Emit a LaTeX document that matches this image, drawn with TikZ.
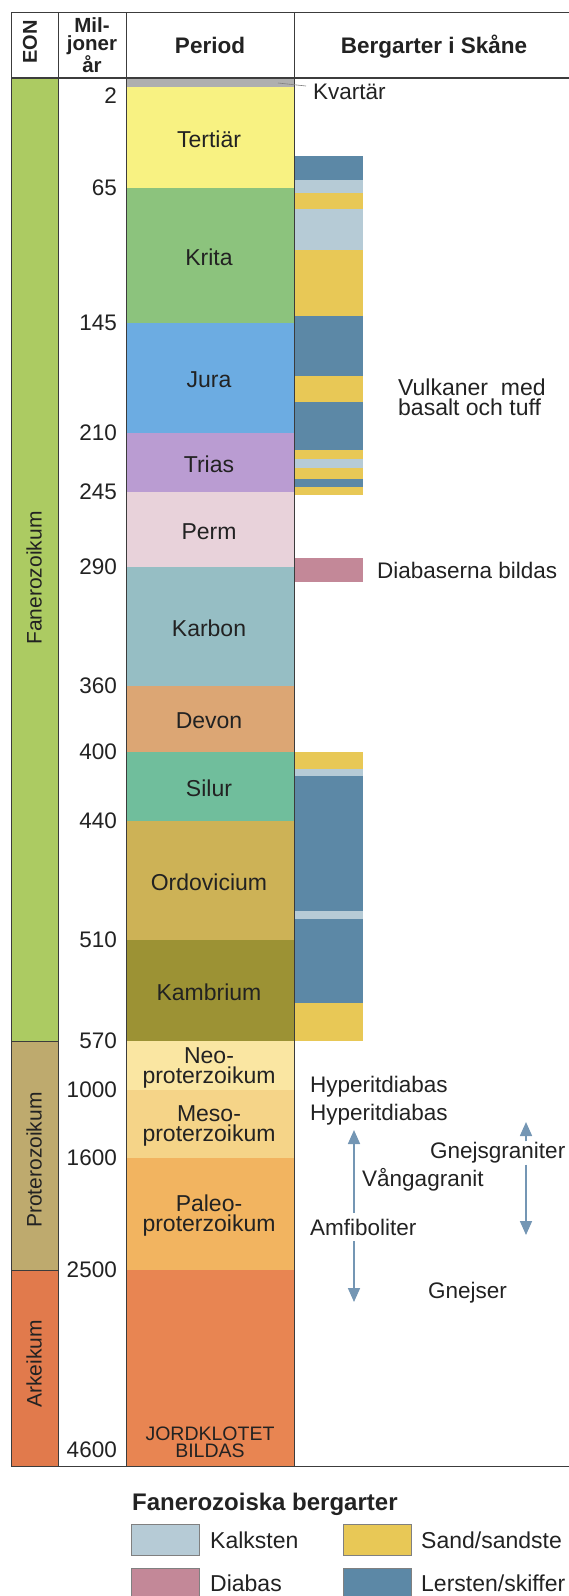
\documentclass[tikz,border=0pt]{standalone}
\usepackage{fontspec}
\setmainfont{Liberation Sans}
\usetikzlibrary{arrows.meta}
% eon colours
\definecolor{fanero}{RGB}{172,203,98}
\definecolor{protero}{RGB}{190,170,110}
\definecolor{arkeikum}{RGB}{225,122,76}
% period colours
\definecolor{kvartar}{RGB}{175,175,175}
\definecolor{tertiar}{RGB}{248,242,130}
\definecolor{krita}{RGB}{140,195,125}
\definecolor{jura}{RGB}{108,172,226}
\definecolor{trias}{RGB}{186,156,210}
\definecolor{perm}{RGB}{232,210,218}
\definecolor{karbon}{RGB}{150,190,196}
\definecolor{devon}{RGB}{220,166,116}
\definecolor{silur}{RGB}{112,190,156}
\definecolor{ordovicium}{RGB}{205,178,86}
\definecolor{kambrium}{RGB}{156,146,52}
\definecolor{neo}{RGB}{250,230,162}
\definecolor{meso}{RGB}{245,212,136}
\definecolor{paleo}{RGB}{242,180,96}
\definecolor{arkper}{RGB}{232,133,82}
% rock colours
\definecolor{lersten}{RGB}{92,136,166}
\definecolor{kalk}{RGB}{182,203,214}
\definecolor{sand}{RGB}{232,200,86}
\definecolor{diabas}{RGB}{195,136,152}
\definecolor{arrowblue}{RGB}{116,150,180}
\definecolor{inkgray}{RGB}{34,34,34}
\definecolor{rulegray}{RGB}{60,60,60}

\tikzset{
  txt/.style={font=\fontsize{22.5}{24}\selectfont, text=inkgray, inner sep=0pt},
  head/.style={txt, font=\fontsize{22.5}{24}\selectfont\bfseries},
  num/.style={txt, anchor=east},
  rule/.style={draw=rulegray, line width=0.8pt},
  rockarrow/.style={draw=arrowblue, line width=1.7pt, -{Triangle[width=12pt,length=14pt]}},
  legbox/.style={draw=gray, line width=0.8pt},
}

\begin{document}
\begin{tikzpicture}[x=1pt, y=-1pt]
\useasboundingbox (0,0) rectangle (569,1596);

% Header
\draw[rule] (11,12) -- (569,12);
\foreach \x in {11,58,126,294}
  \draw[rule] (\x,12) -- (\x,78);
\node[head, rotate=90, font=\fontsize{20}{22}\selectfont\bfseries] (eonhead) at (30,42) {EON};
\node[head, align=center, font=\fontsize{20.5}{18.5}\selectfont\bfseries] (milhead) at (92,45) {Mil-\\joner\\år};
\node[head, anchor=base] (perhead) at (210,53) {Period};
\node[head, anchor=base] (berghead) at (434,53) {Bergarter i Skåne};

% Eons
\fill[fanero] (11,78) rectangle (58,1041);
\fill[protero] (11,1041) rectangle (58,1270);
\fill[arkeikum] (11,1270) rectangle (58,1466);
\draw[rule] (11,1041) -- (58,1041);
\draw[rule] (11,1270) -- (58,1270);
\node[txt, rotate=90, font=\fontsize{21}{22}\selectfont] (fanerozoikum) at (34,578) {Fanerozoikum};
\node[txt, rotate=90, font=\fontsize{21}{22}\selectfont] (proterozoikum) at (34,1160) {Proterozoikum};
\node[txt, rotate=90, font=\fontsize{21}{22}\selectfont] (arkeikum) at (34,1364) {Arkeikum};

% Periods
\fill[kvartar] (126,78) rectangle (294,87);
\draw[rule] (126,87) -- (294,87);
\foreach \ytop/\ybot/\col/\lbl in {87/188/tertiar/Tertiär, 188/323/krita/Krita,
    323/433/jura/Jura, 433/492/trias/Trias, 492/567/perm/Perm, 567/686/karbon/Karbon,
    686/752/devon/Devon, 752/821/silur/Silur, 821/940/ordovicium/Ordovicium,
    940/1041/kambrium/Kambrium, 1041/1090/neo/{Neo-\\proterzoikum},
    1090/1158/meso/{Meso-\\proterzoikum}, 1158/1270/paleo/{Paleo-\\proterzoikum}}
{
  \fill[\col] (126,\ytop) rectangle (294,\ybot);
  \draw[rule] (126,\ybot) -- (294,\ybot);
  \node[txt, align=center, font=\fontsize{23}{20}\selectfont] (p-\col) at (209,{(\ytop+\ybot)/2+2}) {\lbl};
}
\fill[arkper] (126,1270) rectangle (294,1466);
\node[txt, align=center, font=\fontsize{19.5}{17}\selectfont] (jordklotet) at (210,1442) {JORDKLOTET\\BILDAS};

% Column rules
\foreach \x in {11,58,126,294}
  \draw[rule] (\x,78) -- (\x,1466);
\draw[rule] (11,1466) -- (569,1466);
\draw[draw=rulegray, line width=1.6pt] (11,78) -- (569,78);

% Millions of years
\node[num] (n2) at (117,96) {2};
\foreach \y/\v in {188/65, 323/145, 433/210, 492/245, 567/290, 686/360, 752/400,
    821/440, 940/510, 1041/570, 1090/1000, 1158/1600, 1270/2500, 1450/4600}
  \node[num] (n\v) at (117,\y) {\v};

% Rocks in Skane
\foreach \ytop/\ybot/\col in {156/180/lersten, 180/193/kalk, 193/209/sand, 209/250/kalk,
    250/316/sand, 316/376/lersten, 376/402/sand, 402/450/lersten, 450/459/sand,
    459/468/kalk, 468/479/sand, 479/487/lersten, 487/495/sand, 752/769/sand,
    769/776/kalk, 776/911/lersten, 911/919/kalk, 919/1003/lersten, 1003/1041/sand}
  \fill[\col] (295,\ytop) rectangle (363,\ybot);
\fill[diabas] (295,558) rectangle (363,582);

% Annotations
\node[txt, anchor=west] (kvartartxt) at (313,92) {Kvartär};
\coordinate (kvband) at (278,83);
\coordinate (kvend) at (306,86);
\draw[gray, line width=0.6pt] (kvband) -- (kvend);
\node[txt, anchor=west, align=left, font=\fontsize{23}{20}\selectfont] (vulkaner) at (398,397) {Vulkaner\ \ med\\basalt och tuff};
\node[txt, anchor=west] (diabaserna) at (377,570) {Diabaserna bildas};
\node[txt, anchor=west] (hyper1) at (310,1087) {Hyperitdiabas};
\node[txt, anchor=west] (hyper2) at (310,1115) {Hyperitdiabas};
\node[txt, anchor=west] (vanga) at (362,1180) {Vångagranit};
\node[txt, anchor=west, inner ysep=6pt] (amfib) at (310,1227) {Amfiboliter};
\node[txt, anchor=west, inner ysep=1pt] (gnejsgr) at (430,1153) {Gnejsgraniter};
\node[txt, anchor=west] (gnejser) at (428,1293) {Gnejser};

% Arrows
\coordinate (ltop) at (354,1130);
\coordinate (lbot) at (354,1302);
\coordinate (rtop) at (526,1122);
\coordinate (rbot) at (526,1235);
\draw[rockarrow] (amfib.north -| ltop) -- (ltop);
\draw[rockarrow] (amfib.south -| lbot) -- (lbot);
\draw[rockarrow] (gnejsgr.north -| rtop) -- (rtop);
\draw[rockarrow] (gnejsgr.south -| rbot) -- (rbot);

% Legend
\node[head, anchor=base west, font=\fontsize{24}{26}\selectfont\bfseries] (legtitle) at (132,1510) {Fanerozoiska bergarter};
\fill[kalk] (131,1524) rectangle (199,1555);
\draw[legbox] (131,1524) rectangle (199,1555);
\fill[sand] (343,1524) rectangle (411,1555);
\draw[legbox] (343,1524) rectangle (411,1555);
\fill[diabas] (131,1568) rectangle (199,1600);
\draw[legbox] (131,1568) rectangle (199,1600);
\fill[lersten] (343,1568) rectangle (411,1600);
\draw[legbox] (343,1568) rectangle (411,1600);
\node[txt, anchor=west, font=\fontsize{23}{25}\selectfont] (legkalk) at (210,1540) {Kalksten};
\node[txt, anchor=west, font=\fontsize{23}{25}\selectfont] (legsand) at (421,1540) {Sand/sandste};
\node[txt, anchor=west, font=\fontsize{23}{25}\selectfont] (legdiabas) at (210,1583) {Diabas};
\node[txt, anchor=west, font=\fontsize{23}{25}\selectfont] (leglersten) at (421,1583) {Lersten/skiffer};
\end{tikzpicture}
\end{document}
